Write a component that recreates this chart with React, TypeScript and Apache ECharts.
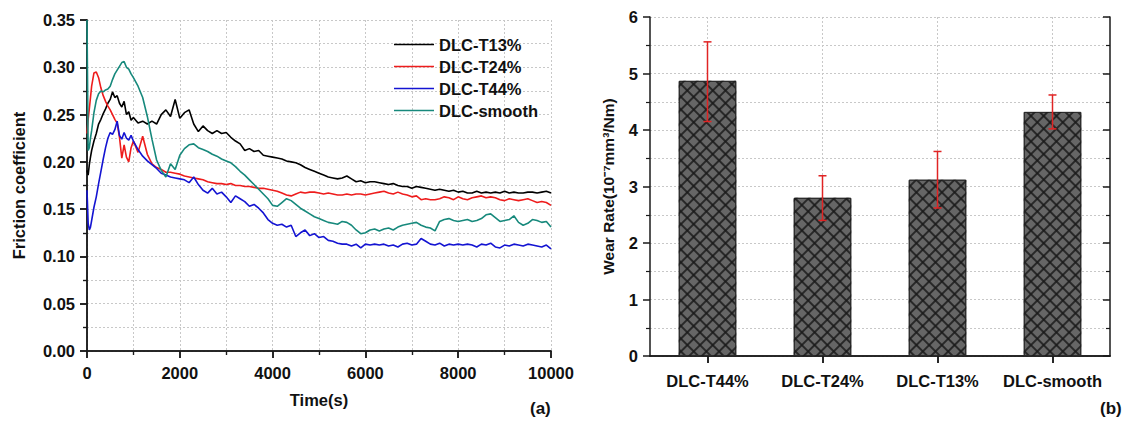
import React, { useEffect, useRef } from "react";
import * as echarts from "echarts";

// ---------- Data: (a) friction coefficient vs time ----------
const TIME = [
  0, 25, 50, 75, 100,
  150, 200, 250, 300, 350, 400, 450, 500,
  550, 600, 650, 700, 750, 800, 850, 900, 950, 1000,
  1100, 1200, 1300, 1400, 1500, 1600, 1700, 1800, 1900, 2000,
  2100, 2200, 2300, 2400, 2500, 2600, 2700, 2800, 2900, 3000,
  3100, 3200, 3300, 3400, 3500, 3600, 3700, 3800, 3900, 4000,
  4100, 4200, 4300, 4400, 4500, 4600, 4700, 4800, 4900, 5000,
  5100, 5200, 5300, 5400, 5500, 5600, 5700, 5800, 5900, 6000,
  6100, 6200, 6300, 6400, 6500, 6600, 6700, 6800, 6900, 7000,
  7100, 7200, 7300, 7400, 7500, 7600, 7700, 7800, 7900, 8000,
  8100, 8200, 8300, 8400, 8500, 8600, 8700, 8800, 8900, 9000,
  9100, 9200, 9300, 9400, 9500, 9600, 9700, 9800, 9900, 10000,
];

const DLC_T13 = [
  0.191, 0.186, 0.197, 0.205, 0.212,
  0.222, 0.230, 0.240, 0.245, 0.251, 0.256, 0.262, 0.266,
  0.274, 0.268, 0.270, 0.262, 0.258, 0.264, 0.250, 0.253, 0.244, 0.247,
  0.241, 0.243, 0.240, 0.243, 0.240, 0.250, 0.255, 0.248, 0.266, 0.246,
  0.252, 0.255, 0.240, 0.232, 0.238, 0.233, 0.230, 0.233, 0.230, 0.231,
  0.226, 0.222, 0.219, 0.212, 0.214, 0.211, 0.212, 0.207, 0.206, 0.205,
  0.204, 0.203, 0.201, 0.200, 0.199, 0.197, 0.194, 0.192, 0.190, 0.188,
  0.186, 0.184, 0.183, 0.182, 0.183, 0.185, 0.182, 0.179, 0.180, 0.178,
  0.179, 0.179, 0.178, 0.177, 0.176, 0.177, 0.175, 0.174, 0.174, 0.172,
  0.174, 0.173, 0.172, 0.171, 0.170, 0.171, 0.170, 0.169, 0.170, 0.168,
  0.169, 0.167, 0.167, 0.169, 0.167, 0.168, 0.167, 0.168, 0.167, 0.169,
  0.167, 0.168, 0.167, 0.167, 0.168, 0.168, 0.167, 0.168, 0.169, 0.167,
];

const DLC_T24 = [
  0.230, 0.245, 0.256, 0.268, 0.280,
  0.294, 0.295, 0.289, 0.278, 0.270, 0.264, 0.259, 0.255,
  0.250, 0.245, 0.241, 0.226, 0.204, 0.218, 0.205, 0.200, 0.215, 0.222,
  0.210, 0.227, 0.208, 0.198, 0.194, 0.192, 0.189, 0.189, 0.188, 0.187,
  0.185, 0.184, 0.183, 0.182, 0.181, 0.179, 0.178, 0.177, 0.177, 0.176,
  0.177, 0.175, 0.175, 0.174, 0.174, 0.173, 0.172, 0.172, 0.171, 0.170,
  0.169, 0.167, 0.165, 0.164, 0.166, 0.168, 0.167, 0.168, 0.168, 0.167,
  0.166, 0.167, 0.166, 0.165, 0.165, 0.166, 0.165, 0.166, 0.166, 0.165,
  0.166, 0.167, 0.168, 0.169, 0.167, 0.166, 0.168, 0.166, 0.165, 0.163,
  0.164, 0.160, 0.161, 0.160, 0.160, 0.161, 0.163, 0.162, 0.160, 0.163,
  0.161, 0.160, 0.162, 0.163, 0.164, 0.162, 0.163, 0.162, 0.160, 0.159,
  0.161, 0.160, 0.159, 0.160, 0.161, 0.159, 0.157, 0.158, 0.157, 0.154,
];

const DLC_T44 = [
  0.170, 0.135, 0.128, 0.131, 0.138,
  0.152, 0.163, 0.177, 0.190, 0.203, 0.215, 0.225, 0.231,
  0.229, 0.234, 0.243, 0.228, 0.224, 0.231, 0.225, 0.223, 0.228, 0.222,
  0.213, 0.206, 0.201, 0.197, 0.193, 0.188, 0.186, 0.184, 0.183, 0.182,
  0.181, 0.178, 0.184, 0.176, 0.170, 0.167, 0.172, 0.166, 0.168, 0.163,
  0.157, 0.164, 0.161, 0.158, 0.153, 0.155, 0.151, 0.146, 0.139, 0.135,
  0.133, 0.134, 0.131, 0.133, 0.121, 0.125, 0.128, 0.122, 0.124, 0.120,
  0.121, 0.117, 0.116, 0.114, 0.113, 0.113, 0.111, 0.113, 0.109, 0.113,
  0.112, 0.113, 0.112, 0.113, 0.111, 0.112, 0.110, 0.113, 0.114, 0.112,
  0.113, 0.119, 0.116, 0.113, 0.112, 0.114, 0.111, 0.113, 0.112, 0.113,
  0.112, 0.113, 0.112, 0.110, 0.113, 0.112, 0.114, 0.110, 0.109, 0.112,
  0.111, 0.113, 0.112, 0.111, 0.113, 0.112, 0.111, 0.110, 0.112, 0.108,
];

const DLC_SMOOTH = [
  0.350, 0.212, 0.215, 0.225, 0.233,
  0.252, 0.265, 0.272, 0.275, 0.274, 0.276, 0.277, 0.280,
  0.287, 0.293, 0.297, 0.301, 0.305, 0.306, 0.300, 0.298, 0.293, 0.289,
  0.280, 0.268, 0.248, 0.224, 0.202, 0.191, 0.184, 0.198, 0.192, 0.207,
  0.214, 0.218, 0.219, 0.215, 0.213, 0.211, 0.208, 0.206, 0.203, 0.201,
  0.199, 0.195, 0.190, 0.186, 0.181, 0.176, 0.171, 0.166, 0.161, 0.154,
  0.153, 0.157, 0.161, 0.159, 0.155, 0.151, 0.148, 0.145, 0.142, 0.140,
  0.138, 0.136, 0.135, 0.134, 0.137, 0.136, 0.133, 0.128, 0.124, 0.125,
  0.128, 0.129, 0.127, 0.129, 0.130, 0.128, 0.131, 0.133, 0.134, 0.135,
  0.136, 0.133, 0.131, 0.130, 0.127, 0.137, 0.139, 0.140, 0.138, 0.137,
  0.138, 0.139, 0.137, 0.138, 0.140, 0.144, 0.145, 0.141, 0.137, 0.138,
  0.139, 0.143, 0.136, 0.133, 0.135, 0.139, 0.138, 0.136, 0.137, 0.131,
];

const LINE_NAMES = ["DLC-T13%", "DLC-T24%", "DLC-T44%", "DLC-smooth"];
const LINE_COLORS = ["#000000", "#ee1c1c", "#1414d2", "#17897c"];

// ---------- Data: (b) wear rate ----------
const SAMPLES = ["DLC-T44%", "DLC-T24%", "DLC-T13%", "DLC-smooth"];
const WEAR_RATE = [4.87, 2.8, 3.12, 4.32];
const WEAR_LOW = [4.15, 2.4, 2.62, 4.02];
const WEAR_HIGH = [5.56, 3.19, 3.62, 4.62];

const FONT = "'Liberation Sans', Arial, sans-serif";
const AXIS_COLOR = "#1a1a1a";
const GRID_LINE = { show: true, lineStyle: { color: "#c8c8c8", type: [2, 2], width: 1 } };

export default function App() {
  const ref = useRef<HTMLDivElement>(null);

  useEffect(() => {
    if (!ref.current) return;
    const chart = echarts.init(ref.current, undefined, { renderer: "svg" });

    const label = { fontFamily: FONT, fontWeight: "bold" as const, fontSize: 16.5, color: "#111" };
    const axisLine = { show: true, lineStyle: { color: AXIS_COLOR, width: 1.5 } };
    const tickOut = { show: true, inside: false, length: 7, lineStyle: { color: AXIS_COLOR, width: 1.5 } };
    const tickIn = { show: true, inside: true, length: 7, lineStyle: { color: AXIS_COLOR, width: 1.5 } };
    const minorTick = { show: true, splitNumber: 2, length: 4, lineStyle: { color: AXIS_COLOR, width: 1.2 } };

    const lineSeries = [DLC_T13, DLC_T24, DLC_T44, DLC_SMOOTH].map((vals, k) => ({
      name: LINE_NAMES[k],
      type: "line",
      xAxisIndex: 0,
      yAxisIndex: 0,
      symbol: "none",
      data: TIME.map((t, i) => [t, vals[i]]),
      lineStyle: { color: LINE_COLORS[k], width: 1.6 },
      itemStyle: { color: LINE_COLORS[k] },
      z: 3 + k,
    }));

    const option: any = {
      animation: false,
      backgroundColor: "#ffffff",
      textStyle: { fontFamily: FONT },
      legend: {
        data: LINE_NAMES,
        orient: "vertical",
        left: 389,
        top: 31,
        icon: "rect",
        itemWidth: 40,
        itemHeight: 1.5,
        itemGap: 5,
        textStyle: { fontFamily: FONT, fontWeight: "bold", fontSize: 16.5, color: "#111" },
      },
      grid: [
        { left: 87, top: 20, width: 464, height: 331, show: false },
        { left: 650, top: 17, width: 460, height: 339, show: false },
      ],
      xAxis: [
        {
          type: "value", gridIndex: 0, min: 0, max: 10000, interval: 2000,
          name: "Time(s)", nameLocation: "middle", nameGap: 40,
          nameTextStyle: { ...label },
          axisLine, axisTick: tickOut, minorTick,
          axisLabel: { ...label, margin: 13, formatter: (v: number) => String(v) },
          splitLine: GRID_LINE, minorSplitLine: GRID_LINE,
        },
        {
          type: "value", gridIndex: 0, position: "top", min: 0, max: 10000, interval: 2000,
          axisLine, axisTick: tickIn, minorTick: { ...minorTick }, axisLabel: { show: false },
          splitLine: { show: false },
        },
        {
          type: "category", gridIndex: 1, data: SAMPLES,
          axisLine, axisTick: { ...tickOut, alignWithLabel: true, interval: 0 },
          axisLabel: { ...label, margin: 16, interval: 0 },
          splitLine: { ...GRID_LINE, alignWithLabel: true, interval: 0 },
        },
        {
          type: "category", gridIndex: 1, position: "top", data: SAMPLES,
          axisLine, axisTick: { ...tickIn, alignWithLabel: true, interval: 0 }, axisLabel: { show: false },
          splitLine: { show: false },
        },
      ],
      yAxis: [
        {
          type: "value", gridIndex: 0, min: 0, max: 0.35, interval: 0.05,
          name: "Friction coefficient", nameLocation: "middle", nameGap: 60,
          nameTextStyle: { ...label },
          axisLine, axisTick: tickOut, minorTick,
          axisLabel: { ...label, margin: 12, formatter: (v: number) => v.toFixed(2) },
          splitLine: GRID_LINE, minorSplitLine: GRID_LINE,
        },
        {
          type: "value", gridIndex: 0, position: "right", min: 0, max: 0.35, interval: 0.05,
          axisLine, axisTick: tickIn, minorTick: { ...minorTick }, axisLabel: { show: false },
          splitLine: { show: false },
        },
        {
          type: "value", gridIndex: 1, min: 0, max: 6, interval: 1,
          name: "Wear Rate(10⁻⁷mm³/Nm)", nameLocation: "middle", nameGap: 34,
          nameTextStyle: { ...label, fontSize: 15.5 },
          axisLine, axisTick: tickOut, minorTick,
          axisLabel: { ...label, margin: 12 },
          splitLine: GRID_LINE, minorSplitLine: GRID_LINE,
        },
        {
          type: "value", gridIndex: 1, position: "right", min: 0, max: 6, interval: 1,
          axisLine, axisTick: tickIn, minorTick: { ...minorTick }, axisLabel: { show: false },
          splitLine: { show: false },
        },
      ],
      series: [
        ...lineSeries,
        {
          name: "wear",
          type: "bar",
          xAxisIndex: 2,
          yAxisIndex: 2,
          data: WEAR_RATE,
          barWidth: "50%",
          itemStyle: {
            color: "#666666",
            borderColor: "#2a2a2a",
            borderWidth: 1,
            decal: {
              symbol: "rect", symbolSize: 1,
              dashArrayX: [1, 0], dashArrayY: [1.5, 7],
              rotation: Math.PI / 4, color: "rgba(25,25,25,0.8)",
            },
          },
          z: 2,
        },
        {
          name: "wear2",
          type: "bar",
          xAxisIndex: 2,
          yAxisIndex: 2,
          data: WEAR_RATE,
          barWidth: "50%",
          barGap: "-100%",
          itemStyle: {
            color: "rgba(0,0,0,0)",
            decal: {
              symbol: "rect", symbolSize: 1,
              dashArrayX: [1, 0], dashArrayY: [1.5, 7],
              rotation: -Math.PI / 4, color: "rgba(25,25,25,0.8)",
            },
          },
          z: 3,
        },
        {
          name: "error",
          type: "custom",
          xAxisIndex: 2,
          yAxisIndex: 2,
          data: SAMPLES.map((_, i) => [i, WEAR_LOW[i], WEAR_HIGH[i]]),
          encode: { x: 0, y: [1, 2] },
          z: 10,
          renderItem: (params: any, api: any) => {
            const x = api.value(0);
            const lo = api.coord([x, api.value(1)]);
            const hi = api.coord([x, api.value(2)]);
            const w = 4;
            const style = { stroke: "#e02424", lineWidth: 1.5 };
            return {
              type: "group",
              children: [
                { type: "line", shape: { x1: hi[0], y1: hi[1], x2: lo[0], y2: lo[1] }, style },
                { type: "line", shape: { x1: hi[0] - w, y1: hi[1], x2: hi[0] + w, y2: hi[1] }, style },
                { type: "line", shape: { x1: lo[0] - w, y1: lo[1], x2: lo[0] + w, y2: lo[1] }, style },
              ],
            };
          },
        },
      ],
      graphic: [
        { type: "text", left: 530, top: 400, style: { text: "(a)", font: `bold 17px ${FONT}`, fill: "#111" } },
        { type: "text", left: 1100, top: 400, style: { text: "(b)", font: `bold 17px ${FONT}`, fill: "#111" } },
      ],
    };

    chart.setOption(option);
    return () => chart.dispose();
  }, []);

  return (
    <div
      ref={ref}
      style={{ position: "fixed", left: 0, top: 0, width: 1130, height: 423, background: "#fff" }}
    />
  );
}
